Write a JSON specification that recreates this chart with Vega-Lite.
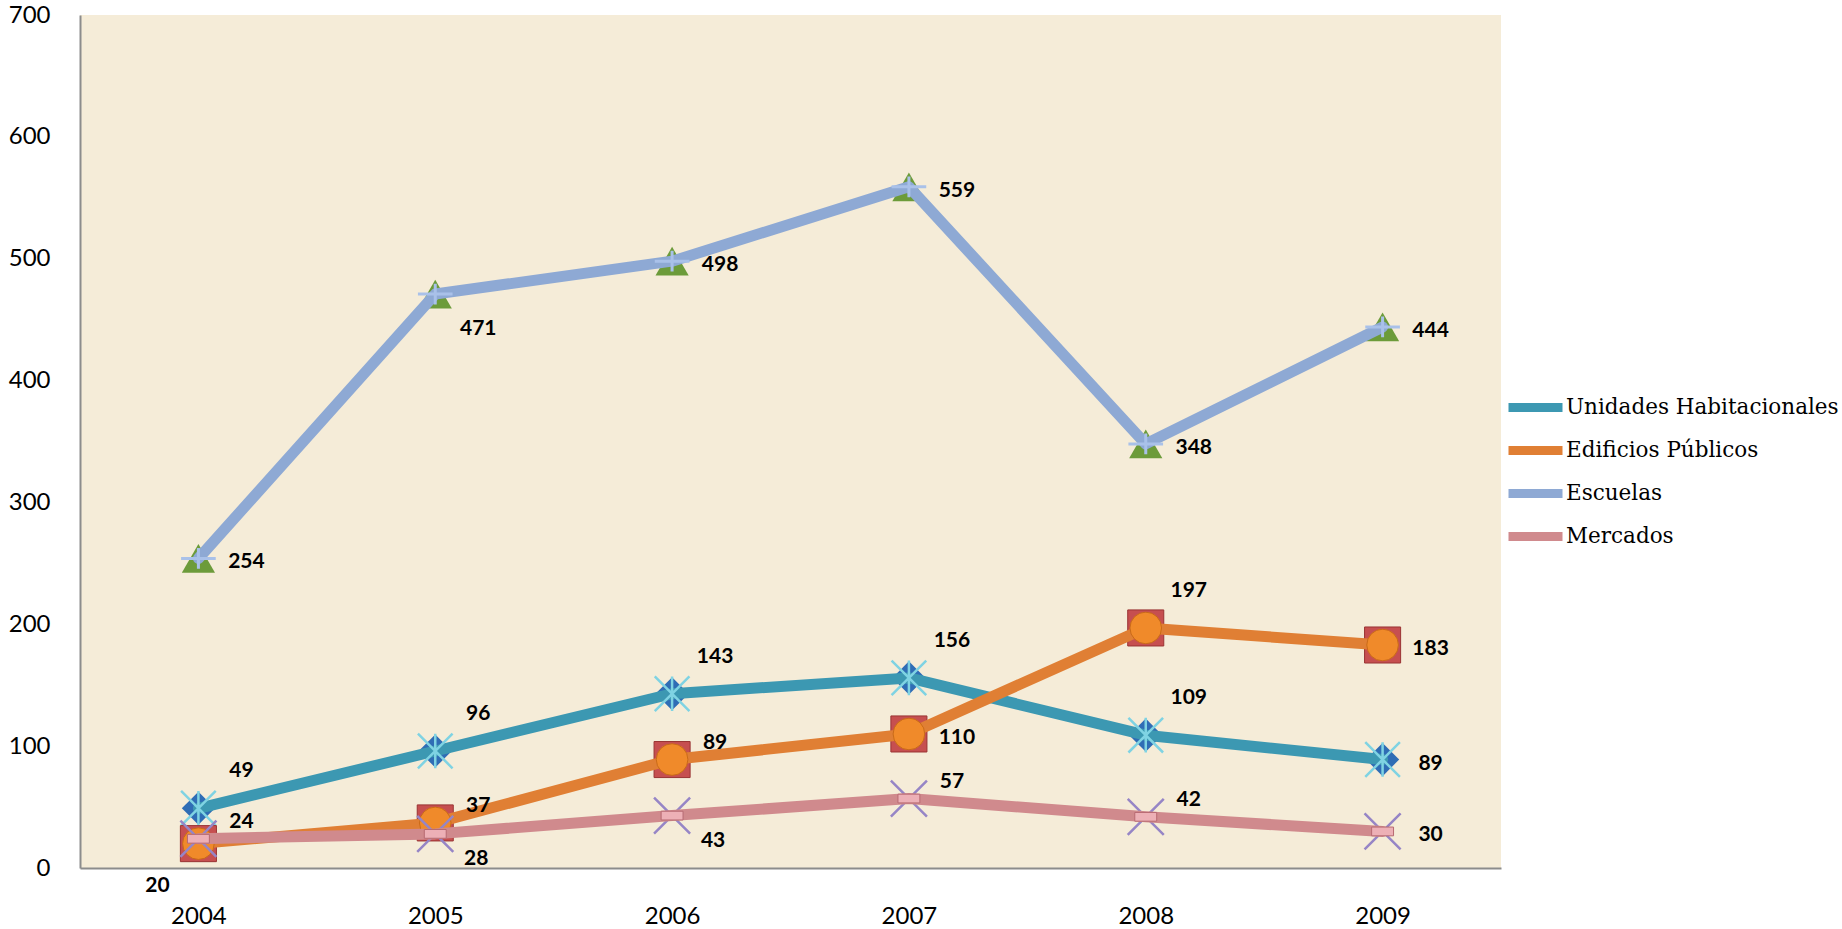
{
  "$schema": "https://vega.github.io/schema/vega-lite/v6.json",
  "width": 1421,
  "height": 853,
  "autosize": {"type": "none"},
  "padding": {"left": 80, "top": 15, "right": 341, "bottom": 61},
  "background": "white",
  "config": {
    "view": {"fill": "#F5ECD8", "stroke": null},
    "axis": {"labelFont": "Lato", "labelFontSize": 24, "labelColor": "#000000", "ticks": false, "grid": false, "title": null, "domainColor": "#8C8C8C", "domainWidth": 2},
    "legend": {"orient": "none", "legendX": 1431, "legendY": 368, "title": null, "symbolType": "M-1.35,0L1.35,0", "symbolSize": 1600, "symbolStrokeWidth": 9, "labelFont": "DejaVu Serif", "labelFontSize": 21.5, "labelColor": "#000000", "labelOffset": 6, "labelLimit": 0, "rowPadding": -4, "padding": 0}
  },
  "data": {
    "values": [
      {"year": "2004", "series": "Unidades Habitacionales", "value": 49},
      {"year": "2005", "series": "Unidades Habitacionales", "value": 96},
      {"year": "2006", "series": "Unidades Habitacionales", "value": 143},
      {"year": "2007", "series": "Unidades Habitacionales", "value": 156},
      {"year": "2008", "series": "Unidades Habitacionales", "value": 109},
      {"year": "2009", "series": "Unidades Habitacionales", "value": 89},
      {"year": "2004", "series": "Edificios Públicos", "value": 20},
      {"year": "2005", "series": "Edificios Públicos", "value": 37},
      {"year": "2006", "series": "Edificios Públicos", "value": 89},
      {"year": "2007", "series": "Edificios Públicos", "value": 110},
      {"year": "2008", "series": "Edificios Públicos", "value": 197},
      {"year": "2009", "series": "Edificios Públicos", "value": 183},
      {"year": "2004", "series": "Escuelas", "value": 254},
      {"year": "2005", "series": "Escuelas", "value": 471},
      {"year": "2006", "series": "Escuelas", "value": 498},
      {"year": "2007", "series": "Escuelas", "value": 559},
      {"year": "2008", "series": "Escuelas", "value": 348},
      {"year": "2009", "series": "Escuelas", "value": 444},
      {"year": "2004", "series": "Mercados", "value": 24},
      {"year": "2005", "series": "Mercados", "value": 28},
      {"year": "2006", "series": "Mercados", "value": 43},
      {"year": "2007", "series": "Mercados", "value": 57},
      {"year": "2008", "series": "Mercados", "value": 42},
      {"year": "2009", "series": "Mercados", "value": 30}
    ]
  },
  "encoding": {
    "x": {"field": "year", "type": "ordinal", "scale": {"type": "point", "padding": 0.5}, "axis": {"labelAngle": 0, "labelPadding": 36}},
    "y": {"field": "value", "type": "quantitative", "scale": {"domain": [0, 700], "nice": false}, "axis": {"values": [0, 100, 200, 300, 400, 500, 600, 700], "labelPadding": 30}}
  },
  "layer": [
    {"transform": [{"filter": "datum.series == 'Unidades Habitacionales'"}], "mark": {"type": "point", "shape": "diamond", "filled": true, "size": 1100, "color": "#2F6DB5", "opacity": 1}},
    {"transform": [{"filter": "datum.series == 'Unidades Habitacionales'"}], "mark": {"type": "line", "strokeWidth": 11, "strokeJoin": "round", "strokeCap": "round"},
     "encoding": {"color": {"field": "series", "type": "nominal", "scale": {"domain": ["Unidades Habitacionales", "Edificios Públicos", "Escuelas", "Mercados"], "range": ["#3C98B2", "#E07F34", "#8EA9D4", "#D08A8D"]}}}},
    {"transform": [{"filter": "datum.series == 'Unidades Habitacionales'"}], "mark": {"type": "point", "shape": "M-1,-1L1,1M-1,1L1,-1M0,-1L0,1", "filled": false, "size": 1200, "color": "#7FD3E3", "strokeWidth": 2.5, "opacity": 1}},

    {"transform": [{"filter": "datum.series == 'Edificios Públicos'"}], "mark": {"type": "point", "shape": "square", "filled": true, "size": 1300, "color": "#C64F50", "stroke": "#9A3434", "strokeWidth": 1, "opacity": 1}},
    {"transform": [{"filter": "datum.series == 'Edificios Públicos'"}], "mark": {"type": "line", "strokeWidth": 11, "strokeJoin": "round", "strokeCap": "round"},
     "encoding": {"color": {"field": "series", "type": "nominal", "scale": {"domain": ["Unidades Habitacionales", "Edificios Públicos", "Escuelas", "Mercados"], "range": ["#3C98B2", "#E07F34", "#8EA9D4", "#D08A8D"]}}}},
    {"transform": [{"filter": "datum.series == 'Edificios Públicos'"}], "mark": {"type": "point", "shape": "circle", "filled": true, "size": 1000, "color": "#F08A2A", "stroke": "#C96A18", "strokeWidth": 1, "opacity": 1}},

    {"transform": [{"filter": "datum.series == 'Escuelas'"}], "mark": {"type": "point", "shape": "triangle-up", "filled": true, "size": 1100, "color": "#6C9B3A", "opacity": 1}},
    {"transform": [{"filter": "datum.series == 'Escuelas'"}], "mark": {"type": "line", "strokeWidth": 11, "strokeJoin": "round", "strokeCap": "round"},
     "encoding": {"color": {"field": "series", "type": "nominal", "scale": {"domain": ["Unidades Habitacionales", "Edificios Públicos", "Escuelas", "Mercados"], "range": ["#3C98B2", "#E07F34", "#8EA9D4", "#D08A8D"]}}}},
    {"transform": [{"filter": "datum.series == 'Escuelas'"}], "mark": {"type": "point", "shape": "M-1,0L1,0M0,-0.6L0,0.6", "filled": false, "size": 1200, "color": "#A9C1E9", "strokeWidth": 3, "opacity": 1}},

    {"transform": [{"filter": "datum.series == 'Mercados'"}], "mark": {"type": "point", "shape": "M-1,-1L1,1M-1,1L1,-1", "filled": false, "size": 1300, "color": "#9685C6", "strokeWidth": 2.5, "opacity": 1}},
    {"transform": [{"filter": "datum.series == 'Mercados'"}], "mark": {"type": "line", "strokeWidth": 11, "strokeJoin": "round", "strokeCap": "round"},
     "encoding": {"color": {"field": "series", "type": "nominal", "scale": {"domain": ["Unidades Habitacionales", "Edificios Públicos", "Escuelas", "Mercados"], "range": ["#3C98B2", "#E07F34", "#8EA9D4", "#D08A8D"]}}}},
    {"transform": [{"filter": "datum.series == 'Mercados'"}], "mark": {"type": "point", "shape": "M-1,-0.4L1,-0.4L1,0.4L-1,0.4Z", "filled": true, "size": 480, "color": "#EDB0B6", "stroke": "#B76A72", "strokeWidth": 1, "opacity": 1}},

    {"transform": [{"filter": "indexof(['Escuelas|2004','Escuelas|2006','Escuelas|2007','Escuelas|2008','Escuelas|2009','Unidades Habitacionales|2009','Edificios Públicos|2007','Edificios Públicos|2009','Mercados|2009'], datum.series + '|' + datum.year) >= 0"}],
     "mark": {"type": "text", "font": "Lato", "fontWeight": "bold", "fontSize": 21, "color": "#000000", "align": "center", "baseline": "middle", "dx": 48, "dy": 4},
     "encoding": {"text": {"field": "value", "type": "quantitative"}}},
    {"transform": [{"filter": "indexof(['Unidades Habitacionales|2004','Unidades Habitacionales|2005','Unidades Habitacionales|2006','Unidades Habitacionales|2007','Unidades Habitacionales|2008','Edificios Públicos|2008'], datum.series + '|' + datum.year) >= 0"}],
     "mark": {"type": "text", "font": "Lato", "fontWeight": "bold", "fontSize": 21, "color": "#000000", "align": "center", "baseline": "middle", "dx": 43, "dy": -37},
     "encoding": {"text": {"field": "value", "type": "quantitative"}}},
    {"transform": [{"filter": "datum.series == 'Escuelas' && datum.year == '2005'"}],
     "mark": {"type": "text", "font": "Lato", "fontWeight": "bold", "fontSize": 21, "color": "#000000", "align": "center", "baseline": "middle", "dx": 43, "dy": 35},
     "encoding": {"text": {"field": "value", "type": "quantitative"}}},
    {"transform": [{"filter": "datum.series == 'Mercados' && (datum.year == '2005' || datum.year == '2006')"}],
     "mark": {"type": "text", "font": "Lato", "fontWeight": "bold", "fontSize": 21, "color": "#000000", "align": "center", "baseline": "middle", "dx": 41, "dy": 25},
     "encoding": {"text": {"field": "value", "type": "quantitative"}}},
    {"transform": [{"filter": "indexof(['Edificios Públicos|2005','Edificios Públicos|2006','Mercados|2004','Mercados|2007','Mercados|2008'], datum.series + '|' + datum.year) >= 0"}],
     "mark": {"type": "text", "font": "Lato", "fontWeight": "bold", "fontSize": 21, "color": "#000000", "align": "center", "baseline": "middle", "dx": 43, "dy": -17},
     "encoding": {"text": {"field": "value", "type": "quantitative"}}},
    {"transform": [{"filter": "datum.series == 'Edificios Públicos' && datum.year == '2004'"}],
     "mark": {"type": "text", "font": "Lato", "fontWeight": "bold", "fontSize": 21, "color": "#000000", "align": "center", "baseline": "middle", "dx": -41, "dy": 42},
     "encoding": {"text": {"field": "value", "type": "quantitative"}}}
  ]
}
